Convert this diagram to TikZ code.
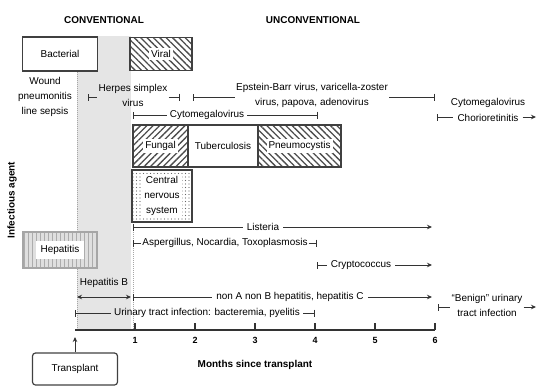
\documentclass[tikz,border=0pt]{standalone}
\usepackage{fontspec}
\setmainfont{Liberation Sans}
\usetikzlibrary{arrows.meta,patterns.meta,positioning}

\begin{document}
\begin{tikzpicture}[x=1bp,y=-1bp,
    every node/.style={font=\fontsize{10}{15}\selectfont, inner sep=1pt, align=center},
    >={Stealth[length=5bp,width=4.5bp]}]
\tikzstyle{head}=[font=\fontsize{10}{12}\selectfont\bfseries]
\tikzstyle{agent}=[draw=black!75, line width=1.4pt, outer sep=0pt, inner sep=0pt]
\tikzstyle{tag}=[fill=white, inner sep=2pt]
\tikzstyle{span}=[draw=black!80, line width=0.9pt]
\tikzstyle{bar start}=[{Bar[width=7bp]}-]
\tikzstyle{bar end}=[-{Bar[width=7bp]}]
\tikzstyle{bar both}=[{Bar[width=7bp]}-{Bar[width=7bp]}]
\tikzstyle{hatch up}=[pattern={Lines[angle=45,distance=4.5bp,line width=1.3bp]}, pattern color=black!70]
\tikzstyle{hatch down}=[pattern={Lines[angle=-45,distance=4.5bp,line width=1.3bp]}, pattern color=black!70]

\useasboundingbox (0,0) rectangle (537,387);

%Shades the first month after transplant
\fill[gray!20] (77,36) rectangle (131,330);
\draw[densely dotted, gray!70, line width=1pt] (77,72) -- (77,330);
\draw[densely dotted, gray!70, line width=1pt] (133,222) -- (133,330);

%Sets the month positions on the axis
\foreach \m in {0,...,6} \coordinate (m\m) at ({75+60*\m},330);

\node[head] (conv) at (104,20) {CONVENTIONAL};
\node[head] (unconv) at (313,20) {UNCONVENTIONAL};
\node[head, rotate=90] (ylab) at (12,200) {Infectious agent};

%Draws the agent boxes
\node[agent, fill=white, minimum width=75bp, minimum height=34bp] (bact) at (60,54) {Bacterial};
\node[agent, hatch down, minimum width=62bp, minimum height=33bp] (viral) at (161,54) {};
\node[tag] (viral-t) at (viral) {Viral};
\node (sites) at (45,97) {Wound\\pneumonitis\\line sepsis};

\node[agent, hatch up, minimum width=55bp, minimum height=42bp] (fungal) at (160.5,146) {};
\node[tag] (fungal-t) at (fungal) {Fungal};
\node[agent, fill=white, minimum width=70bp, minimum height=42bp, right=0pt of fungal] (tb) {Tuberculosis};
\node[agent, hatch down, minimum width=83bp, minimum height=42bp, right=0pt of tb] (pcp) {};
\node[tag] (pcp-t) at (pcp) {Pneumocystis};

\node[agent, pattern={Dots[distance=3.5bp,radius=0.6bp]}, pattern color=black!60, minimum width=60bp, minimum height=52bp] (cns) at (162,196) {};
\node[tag] (cns-t) at (cns) {Central\\nervous\\system};

\node[agent, draw=gray!70, preaction={fill=gray!25}, pattern={Lines[angle=90,distance=4bp,line width=0.8bp]}, pattern color=gray!65, minimum width=74bp, minimum height=36bp] (hep) at (60,250) {};
\node[tag, inner xsep=5bp, inner ysep=4bp] (hep-t) at (hep) {Hepatitis};

%Herpes simplex
\coordinate (hsv-a) at (88,97);
\coordinate (hsv-b) at (180,97);
\node (hsv) at (133,95) {Herpes simplex\\virus};
\draw[span, bar start] (hsv-a) -- (hsv-a -| hsv.west);
\draw[span, bar end] (hsv-b -| hsv.east) -- (hsv-b);

%Epstein-Barr and others
\coordinate (ebv-a) at (193,97);
\coordinate (ebv-b) at (435,97);
\node (ebv) at (312,95) {Epstein-Barr virus, varicella-zoster\\virus, papova, adenovirus};
\draw[span, bar start] (ebv-a) -- (ebv-a -| ebv.west);
\draw[span, bar end] (ebv-b -| ebv.east) -- (ebv-b);

%Cytomegalovirus
\coordinate (cmv-a) at (133,115);
\coordinate (cmv-b) at (318,115);
\node[inner xsep=3bp] (cmv) at (207,115) {Cytomegalovirus};
\draw[span, bar start] (cmv-a) -- (cmv.west);
\draw[span, bar end] (cmv.east) -- (cmv-b);

\coordinate (ret-a) at (437,117);
\coordinate (ret-b) at (536,117);
\node[inner xsep=4bp] (ret) at (488,118) {Chorioretinitis};
\node (ret-top) at (488,103) {Cytomegalovirus};
\draw[span, bar start] (ret-a) -- (ret-a -| ret.west);
\draw[span, ->] (ret-b -| ret.east) -- (ret-b);

%Listeria
\coordinate (lis-a) at (133,227);
\coordinate (lis-b) at (432,227);
\node[inner xsep=4bp] (lis) at (263,227) {Listeria};
\draw[span, bar start] (lis-a) -- (lis.west);
\draw[span, ->] (lis.east) -- (lis-b);

%Aspergillus, Nocardia, Toxoplasmosis
\coordinate (asp-a) at (133,243);
\coordinate (asp-b) at (317,243);
\node (asp) at (225,243) {Aspergillus, Nocardia, Toxoplasmosis};
\draw[span, bar start] (asp-a) -- (asp.west);
\draw[span, bar end] (asp.east) -- (asp-b);

%Cryptococcus
\coordinate (cry-a) at (317,265);
\coordinate (cry-b) at (432,265);
\node[inner xsep=4bp] (cry) at (361,265) {Cryptococcus};
\draw[span, bar start] (cry-a) -- (cry.west);
\draw[span, ->] (cry.east) -- (cry-b);

%Hepatitis B and C
\node (hepb) at (104,283) {Hepatitis B};
\coordinate (hb-a) at (77,297);
\coordinate (hb-b) at (131,297);
\draw[span, <->] (hb-a) -- (hb-b);

\coordinate (nab-a) at (133,297);
\coordinate (nab-b) at (432,297);
\node[inner xsep=4bp] (nab) at (290,297) {non A non B hepatitis, hepatitis C};
\draw[span, bar start] (nab-a) -- (nab.west);
\draw[span, ->] (nab.east) -- (nab-b);

\coordinate (but-a) at (438,307);
\coordinate (but-b) at (536,307);
\node (but) at (487,305) {“Benign” urinary\\tract infection};
\draw[span, bar start] (but-a) -- (but-a -| but.west);
\draw[span, ->] (but-b -| but.east) -- (but-b);

%Urinary tract infection
\coordinate (uti-a) at (75,313);
\coordinate (uti-b) at (315,313);
\node[inner xsep=3bp] (uti) at (207,313) {Urinary tract infection: bacteremia, pyelitis};
\draw[span, bar start] (uti-a) -- (uti.west);
\draw[span, bar end] (uti.east) -- (uti-b);

%Draws the time axis
\draw[span, line width=1.2pt] (m0) -- (m6);
\foreach \m in {1,...,6} {
    \draw[span, line width=1.2pt] (m\m) -- ++(0,-7);
    \node[head, font=\fontsize{9}{10}\selectfont\bfseries] (lab\m) [below=6bp of m\m] {\m};
}
\node[head] (months) at (255,365) {Months since transplant};

\node[draw=black!75, line width=1.2pt, rounded corners=3bp, minimum width=85bp, minimum height=32bp] (tx) at (75,369) {Transplant};
\draw[span, ->, shorten >=7bp] (tx.north) -- (m0);
\end{tikzpicture}
\end{document}
